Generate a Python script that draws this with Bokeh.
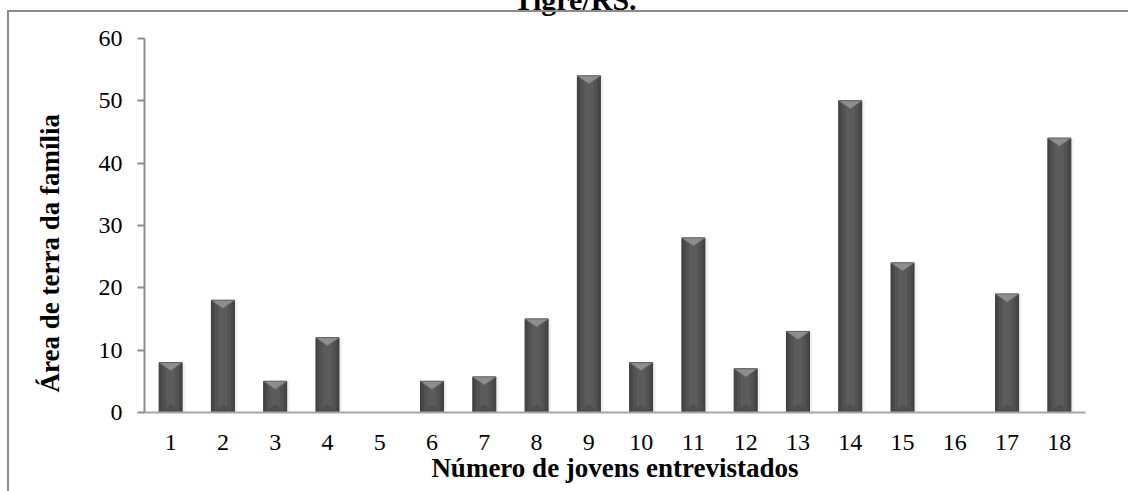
import numpy as np
from bokeh.plotting import figure
from bokeh.models import Range1d, FixedTicker, Title, InlineStyleSheet
from bokeh.embed import file_html
from bokeh.resources import INLINE

# Respondents (youth interviewed) and the family's land area
entrevistados = ["1", "2", "3", "4", "5", "6", "7", "8", "9",
                 "10", "11", "12", "13", "14", "15", "16", "17", "18"]
area_terra = [8, 18, 5, 12, 0, 5, 5.7, 15, 54, 8, 28, 7, 13, 50, 24, 0, 19, 44]
y_ticks = [0, 10, 20, 30, 40, 50, 60]

titulo = "Tigre/RS."
titulo_x = "Número de jovens entrevistados"
titulo_y = "Área de terra da família"

FONT = "Liberation Serif"
SHIFT = 50  # part of the canvas kept above the page top (title runs off the edge)

pos = np.arange(1, len(entrevistados) + 1)
vals = np.array(area_terra, dtype=float)

p = figure(width=1128, height=491 + SHIFT, output_backend="svg", toolbar_location=None,
           x_range=Range1d(0.5, len(entrevistados) + 0.5), y_range=Range1d(0, 60),
           min_border_left=144, min_border_right=43, min_border_top=38 + SHIFT,
           min_border_bottom=79)
p.outline_line_color = None
p.grid.visible = False
p.background_fill_color = "white"
p.border_fill_color = "white"
p.styles = {"margin-top": f"-{SHIFT}px"}

# chart-area frame (top and left edges are the only ones on the page)
p.stylesheets = [InlineStyleSheet(css=(
    ":host::after{content:'';position:absolute;left:7px;top:%dpx;right:0;bottom:0;"
    "border-left:2px solid #8c8c8c;border-top:2px solid #8c8c8c;pointer-events:none;}"
    % (10 + SHIFT)))]

# bevelled bars: dark body, lighter centre strips, lighter top facet
W = 0.44
p.vbar(x=pos + 0.06, top=vals, width=W, bottom=0, fill_color="#d8d8d8",
       fill_alpha=0.35, line_color=None)
p.vbar(x=pos, top=vals, width=W, bottom=0, fill_color="#474747",
       line_color="#383838", line_width=1)
p.vbar(x=pos, top=vals, width=W * 0.72, bottom=0, fill_color="#525252", line_color=None)
p.vbar(x=pos, top=vals, width=W * 0.40, bottom=0, fill_color="#5b5b5b", line_color=None)

nz = vals > 0
cx = pos[nz]
cv = vals[nz]
depth = 1.3
top_xs = [[c - W / 2, c + W / 2, c] for c in cx]
top_ys = [[v, v, v - depth] for v in cv]
p.patches(top_xs, top_ys, fill_color="#8e8e8e", line_color="#6a6a6a", line_width=0.8)
bot_xs = [[c - W / 2, c + W / 2, c] for c in cx]
bot_ys = [[0, 0, min(depth, v)] for v in cv]
p.patches(bot_xs, bot_ys, fill_color="#4e4e4e", line_color=None)

# axes
p.xaxis.ticker = FixedTicker(ticks=list(pos))
p.xaxis.major_label_overrides = {int(k): s for k, s in zip(pos, entrevistados)}
p.xaxis.major_tick_out = 0
p.xaxis.major_tick_in = 0
p.xaxis.minor_tick_line_color = None
p.xaxis.axis_line_color = "#a6a6a6"
p.xaxis.axis_line_width = 2
p.xaxis.major_label_text_font = FONT
p.xaxis.major_label_text_font_size = "24px"
p.xaxis.major_label_text_color = "black"
p.xaxis.major_label_standoff = 22
p.xaxis.axis_label = titulo_x
p.xaxis.axis_label_text_font = FONT
p.xaxis.axis_label_text_font_size = "27px"
p.xaxis.axis_label_text_font_style = "bold"
p.xaxis.axis_label_text_color = "black"
p.xaxis.axis_label_standoff = 0

p.yaxis.ticker = FixedTicker(ticks=y_ticks)
p.yaxis.major_tick_out = 7
p.yaxis.major_tick_in = 0
p.yaxis.minor_tick_line_color = None
p.yaxis.major_tick_line_color = "#8c8c8c"
p.yaxis.major_tick_line_width = 2
p.yaxis.axis_line_color = "#8c8c8c"
p.yaxis.axis_line_width = 2
p.yaxis.major_label_text_font = FONT
p.yaxis.major_label_text_font_size = "24px"
p.yaxis.major_label_text_color = "black"
p.yaxis.major_label_standoff = 15

# vertical axis title
p.add_layout(Title(text=titulo_y, align="left", offset=20, standoff=62,
                   text_font=FONT, text_font_size="27px", text_font_style="bold",
                   text_color="black"), "left")

# chart title
p.title.text = titulo
p.title.align = "left"
p.title.offset = 369
p.title.standoff = 45
p.title.text_font = FONT
p.title.text_font_size = "30px"
p.title.text_font_style = "bold"
p.title.text_color = "black"

open("out.html", "w").write(file_html(p, INLINE))
